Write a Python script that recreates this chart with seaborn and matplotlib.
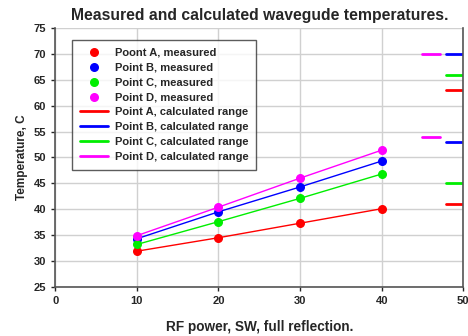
import numpy as np
import pandas as pd
import seaborn as sns
import matplotlib
matplotlib.use('Agg')
import matplotlib.pyplot as plt

power = [10, 20, 30, 40]
temp_a = [31.9, 34.5, 37.3, 40.1]
temp_b = [34.3, 39.5, 44.3, 49.3]
temp_c = [33.2, 37.6, 42.1, 46.8]
temp_d = [34.9, 40.4, 46.0, 51.4]

# calculated ranges: (x start, x end), low / high
range_x_abc = [47.9, 50.5]
range_x_d = [44.9, 47.2]
range_a = [41, 63]
range_b = [53, 70]
range_c = [45, 66]
range_d = [54, 70]

names = ['A', 'B', 'C', 'D']
colors = {'A': '#ff0000', 'B': '#0000ff', 'C': '#00ee00', 'D': '#ff00ff'}
meas_labels = {'A': 'Poont A, measured', 'B': 'Point B, measured',
               'C': 'Point C, measured', 'D': 'Point D, measured'}

df = pd.DataFrame({
    'power': power * 4,
    'temp': temp_a + temp_b + temp_c + temp_d,
    'point': sum([[n] * 4 for n in names], []),
})

sns.set_style('whitegrid')
plt.rcParams['font.family'] = ['Liberation Sans', 'DejaVu Sans']
plt.rcParams['font.weight'] = 'bold'

fig, ax = plt.subplots(figsize=(4.68, 3.36), dpi=100)
fig.subplots_adjust(left=0.118, right=0.99, top=0.917, bottom=0.146)

sns.lineplot(data=df, x='power', y='temp', hue='point', palette=colors,
             linewidth=1, legend=False, ax=ax)
handles = []
for n in names:
    sub = df[df.point == n]
    h = ax.scatter(sub.power, sub.temp, color=colors[n], s=30, zorder=3,
                   label=meas_labels[n])
    handles.append(h)

ranges = {'A': range_a, 'B': range_b, 'C': range_c, 'D': range_d}
for n in names:
    xs = range_x_d if n == 'D' else range_x_abc
    for v in ranges[n]:
        l, = ax.plot(xs, [v, v], color=colors[n], lw=2)
    l.set_label('Point %s, calculated range' % n)
    handles.append(l)

ax.set_xlim(0, 50)
ax.set_ylim(25, 75)
ax.set_xticks(range(0, 51, 10))
ax.set_yticks(range(25, 76, 5))
ax.tick_params(labelsize=8, length=3, left=True, bottom=True, width=1)
ax.grid(color='#d0d0d0', lw=1)
for s in ['left', 'bottom', 'right']:
    ax.spines[s].set_color('#555555')
    ax.spines[s].set_linewidth(1.2)
ax.spines['top'].set_visible(False)

ax.set_title('Measured and calculated wavegude temperatures.', fontsize=11.3,
             fontweight='bold')
ax.set_xlabel('RF power, SW, full reflection.', fontsize=9.8, fontweight='bold',
              labelpad=10)
ax.set_ylabel('Temperature, C', fontsize=8.5, fontweight='bold')

leg = ax.legend(handles=handles, loc='upper left', bbox_to_anchor=(0.042, 0.955),
                borderaxespad=0, fontsize=8, frameon=True, fancybox=False,
                handlelength=2.5, labelspacing=0.45, borderpad=0.7,
                handletextpad=0.6)
leg.get_frame().set_edgecolor('#333333')
leg.get_frame().set_linewidth(1)

plt.savefig('out.png', dpi=100)
